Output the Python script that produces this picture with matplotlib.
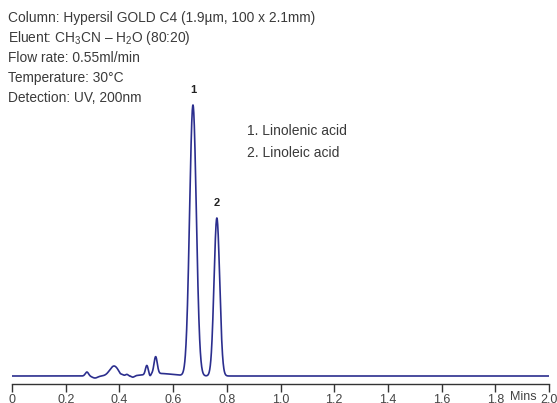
import numpy as np
import matplotlib
matplotlib.use("Agg")
import matplotlib.pyplot as plt

# Peak table (time in min, height in arbitrary units, width sigma in min)
peak_times   = [0.279, 0.309, 0.380, 0.402, 0.428, 0.450, 0.502, 0.514, 0.535, 0.674, 0.763]
peak_heights = [4.0,   -2.0,  10.0,  -1.0,  1.5,   -1.5,  9.0,   -2.0,  17.0,  271.0, 158.0]
peak_widths  = [0.006, 0.010, 0.016, 0.004, 0.005, 0.006, 0.005, 0.003, 0.006, 0.0125, 0.0105]
# Background hump between 0.44 and 0.62
hump_time, hump_height, hump_width = 0.55, 2.5, 0.05

tick_values = [0, 0.2, 0.4, 0.6, 0.8, 1.0, 1.2, 1.4, 1.6, 1.8, 2.0]
tick_labels = ["0", "0.2", "0.4", "0.6", "0.8", "1.0", "1.2", "1.4", "1.6", "1.8", "2.0"]

header_lines = [
    "Column: Hypersil GOLD C4 (1.9\u00b5m, 100 x 2.1mm)",
    "Eluent: CH$_3$CN \u2013 H$_2$O (80:20)",
    "Flow rate: 0.55ml/min",
    "Temperature: 30\u00b0C",
    "Detection: UV, 200nm",
]
legend_lines = ["1. Linolenic acid", "2. Linoleic acid"]
peak_labels = ["1", "2"]
peak_label_idx = [9, 10]

FONT = ["Liberation Sans", "DejaVu Sans"]
plt.rcParams["font.family"] = FONT
plt.rcParams["mathtext.fontset"] = "custom"
plt.rcParams["mathtext.rm"] = "Liberation Sans"
plt.rcParams["mathtext.it"] = "Liberation Sans"

W, H = 557, 403
fig = plt.figure(figsize=(W / 100, H / 100), dpi=100)

x0, x1 = 12, 549
ax_bottom_px = 384
ax_top_px = 76
ax = fig.add_axes([x0 / W, (H - ax_bottom_px) / H, (x1 - x0) / W, (ax_bottom_px - ax_top_px) / H])

t = np.linspace(0, 2.0, 4001)
y = np.zeros_like(t)
for c, h, s in zip(peak_times, peak_heights, peak_widths):
    y += h * np.exp(-0.5 * ((t - c) / s) ** 2)
mask = (t > 0.44) & (t < 0.66)
y += np.where(mask, hump_height * np.exp(-0.5 * ((t - hump_time) / hump_width) ** 2), 0)

ax.plot(t, y, color="#2b2e8e", lw=1.2, solid_joinstyle="round")
ax.set_xlim(0, 2.0)
ax.set_ylim(-8, 300)

for s in ["top", "right", "left"]:
    ax.spines[s].set_visible(False)
ax.spines["bottom"].set_color("#333333")
ax.spines["bottom"].set_linewidth(1.0)
ax.set_yticks([])
ax.set_xticks(tick_values)
ax.set_xticklabels(tick_labels)
ax.tick_params(axis="x", direction="out", length=6, width=1.0, color="#333333",
               labelsize=9, labelcolor="#444444", pad=1.5)

tc = "#3a3a3a"
for i, line in enumerate(header_lines):
    fig.text(8 / W, 1 - (18 + 20 * i) / H, line, fontsize=9.9, color=tc,
             va="center", ha="left", family=FONT)

for lbl, idx in zip(peak_labels, peak_label_idx):
    ax.annotate(lbl, (peak_times[idx], peak_heights[idx]), xytext=(0, 7),
                textcoords="offset points", ha="center", va="bottom",
                fontsize=8, color="#222222", fontweight="bold")

for i, line in enumerate(legend_lines):
    fig.text(247 / W, 1 - (131 + 22 * i) / H, line, fontsize=10, color=tc,
             va="center", ha="left", family=FONT)

fig.text(523 / W, 1 - 397 / H, "Mins", fontsize=9, color="#444444",
         ha="center", va="center", family=FONT)

fig.savefig("out.png", dpi=100)
